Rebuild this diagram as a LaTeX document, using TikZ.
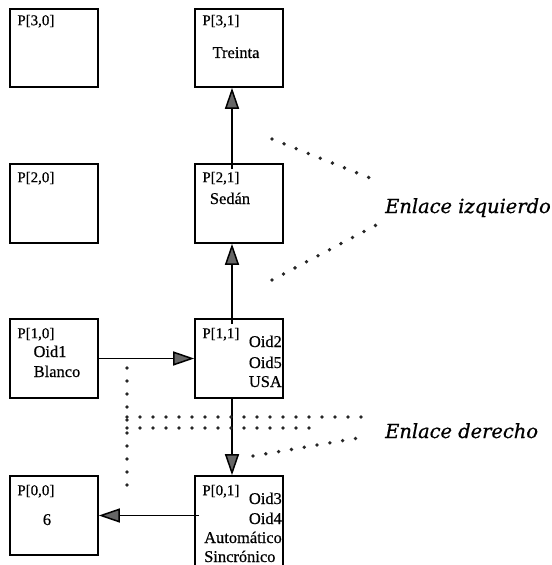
\documentclass[tikz,border=0pt]{standalone}
\usepackage{fontspec}
\setmainfont[FakeBold=0.6]{Liberation Serif}
\newfontfamily\notefont[FakeBold=0.8]{DejaVu Serif}
\usetikzlibrary{arrows.meta}

\begin{document}
\begin{tikzpicture}[x=1bp, y=-1bp,
  cell/.style={draw, line width=1.6bp, minimum width=88bp, minimum height=79bp, inner sep=0pt},
  tag/.style={font=\fontsize{15}{18}\selectfont, inner sep=0pt},
  val/.style={font=\fontsize{16.5}{20}\selectfont, inner sep=0pt},
  link/.style={line width=1.5bp, -{Triangle[length=21bp, width=14bp, fill=black!60]}},
  dots/.style={black!85, line width=3.8bp, line cap=round, dash pattern=on 0pt off 13bp},
  note/.style={font=\notefont\itshape\fontsize{19.5}{22}\selectfont, inner sep=0pt}]
  \path[use as bounding box, clip] (0,0) rectangle (552,565);

  % the cells
  \node[cell, minimum height=78bp] (p30) at (54,48) {};
  \node[cell, minimum height=78bp] (p31) at (239,48) {};
  \node[cell] (p20) at (54,203.5) {};
  \node[cell] (p21) at (239,203.5) {};
  \node[cell] (p10) at (54,358.5) {};
  \node[cell] (p11) at (239,358.5) {};
  \node[cell] (p00) at (54,515.5) {};
  \node[cell, minimum height=100bp] (p01) at (239,526) {};

  % cell texts
  \node[tag, anchor=base west] (t30) at ([shift={(8,17)}]p30.north west) {P[3,0]};
  \node[tag, anchor=base west] (t31) at ([shift={(8,17)}]p31.north west) {P[3,1]};
  \node[val, anchor=base] (t31a) at (236,58) {Treinta};
  \node[tag, anchor=base west] (t20) at ([shift={(8,19)}]p20.north west) {P[2,0]};
  \node[tag, anchor=base west] (t21) at ([shift={(8,19)}]p21.north west) {P[2,1]};
  \node[val, anchor=base] (t21a) at (230,204) {Sedán};
  \node[tag, anchor=base west] (t10) at ([shift={(8,20)}]p10.north west) {P[1,0]};
  \node[val, anchor=base] (t10a) at (50,357) {Oid1};
  \node[val, anchor=base] (t10b) at (57,377) {Blanco};
  \node[tag, anchor=base west] (t11) at ([shift={(8,20)}]p11.north west) {P[1,1]};
  \node[val, anchor=base east] (t11a) at (282,347) {Oid2};
  \node[val, anchor=base east] (t11b) at (282,368) {Oid5};
  \node[val, anchor=base east] (t11c) at (282,387) {USA};
  \node[tag, anchor=base west] (t00) at ([shift={(8,20)}]p00.north west) {P[0,0]};
  \node[val, anchor=base] (t00a) at (47,525) {6};
  \node[tag, anchor=base west] (t01) at ([shift={(8,20)}]p01.north west) {P[0,1]};
  \node[val, anchor=base east] (t01a) at (282,504) {Oid3};
  \node[val, anchor=base east] (t01b) at (282,524) {Oid4};
  \node[val, anchor=base west] (t01c) at (204,543) {Automático};
  \node[val, anchor=base west] (t01d) at (204,562) {Sincrónico};

  % links
  \draw[link] ([xshift=-7bp,yshift=-6bp]p21.north) -- ([xshift=-7bp]p31.south);
  \draw[link] ([xshift=-7bp,yshift=-6bp]p11.north) -- ([xshift=-7bp]p21.south);
  \draw[link] ([xshift=-7bp]p11.south) -- ([xshift=-7bp]p01.north);
  \draw[link] (p10.east) -- (p11.west);
  \draw[link] ([xshift=5bp]p01.west |- p00.east) -- (p00.east);

  % notes
  \node[note, anchor=base west] (izq) at (385,213) {Enlace izquierdo};
  \node[note, anchor=base west] (der) at (385,438) {Enlace derecho};
  \coordinate (izqA) at (272,139);
  \coordinate (izqB) at (380,182);
  \coordinate (izqC) at (272,280);
  \coordinate (izqD) at (380,223);
  \coordinate (derA) at (127,368);
  \coordinate (derB) at (127,497);
  \coordinate (derC) at (127,417);
  \coordinate (derD) at (363,417);
  \coordinate (derE) at (127,428);
  \coordinate (derF) at (310,428);
  \coordinate (derG) at (253,456);
  \coordinate (derH) at (358,438);
  \draw[dots] (izqA) -- (izqB);
  \draw[dots] (izqC) -- (izqD);
  \draw[dots] (derA) -- (derB);
  \draw[dots] (derC) -- (derD);
  \draw[dots] (derE) -- (derF);
  \draw[dots] (derG) -- (derH);
\end{tikzpicture}
\end{document}
